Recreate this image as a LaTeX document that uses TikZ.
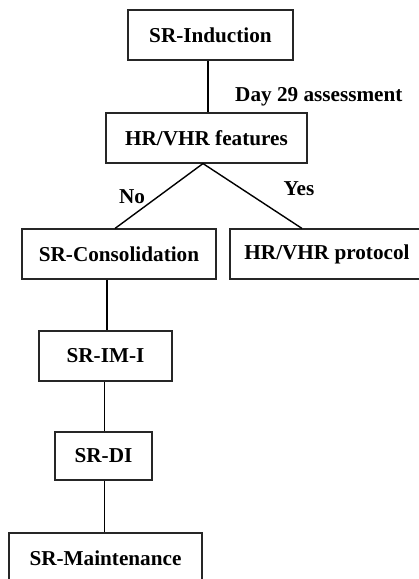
\documentclass[tikz,border=0pt]{standalone}
\usepackage{fontspec}
\setmainfont{Liberation Serif}
\tikzset{
  stage/.style={draw=black!85,line width=1.1pt,minimum height=50pt,inner sep=0pt,
    font=\fontsize{21.2}{25}\selectfont\bfseries},
  tag/.style={font=\fontsize{21.2}{25}\selectfont\bfseries,inner sep=0pt},
  thickline/.style={line width=1.4pt},
  thinline/.style={line width=0.8pt}
}
\begin{document}
\begin{tikzpicture}[x=1pt,y=-1pt]
        \useasboundingbox (0,0) rectangle (419,579);
        \clip (0,0) rectangle (419,579);
        \node[stage,minimum width=165pt] (induct) at (210.5,35) {SR-Induction};
        \node[stage,minimum width=201pt] (feat) at (206.5,138) {HR/VHR features};
        \node[stage,minimum width=194pt] (consol) at (119,254) {SR-Consolidation};
        \node[stage,minimum width=194pt] (proto) at (327,254) {HR/VHR protocol};
        \node[stage,minimum width=133pt] (imi) at (105.5,356) {SR-IM-I};
        \node[stage,minimum width=97pt,minimum height=48pt] (di) at (103.5,456) {SR-DI};
        \node[stage,minimum width=193pt] (maint) at (105.5,558) {SR-Maintenance};
        \node[tag,anchor=west] (day) at (235,97) {Day 29 assessment};
        \node[tag] (no) at (132,197) {No};
        \node[tag] (yes) at (299,189) {Yes};
        \draw[thickline] ([xshift=-2.5pt]induct.south) -- ([xshift=1.5pt]feat.north);
        \draw[thickline] ([xshift=-3.5pt]feat.south) -- ([xshift=-4pt]consol.north);
        \draw[thickline] ([xshift=-3.5pt]feat.south) -- ([xshift=-25pt]proto.north);
        \draw[thickline] ([xshift=-12pt]consol.south) -- ([xshift=1.5pt]imi.north);
        \draw[thinline] ([xshift=-1.5pt]imi.south) -- ([xshift=0.5pt]di.north);
        \draw[thinline] ([xshift=0.5pt]di.south) -- ([xshift=-1.5pt]maint.north);
    \end{tikzpicture}
\end{document}
